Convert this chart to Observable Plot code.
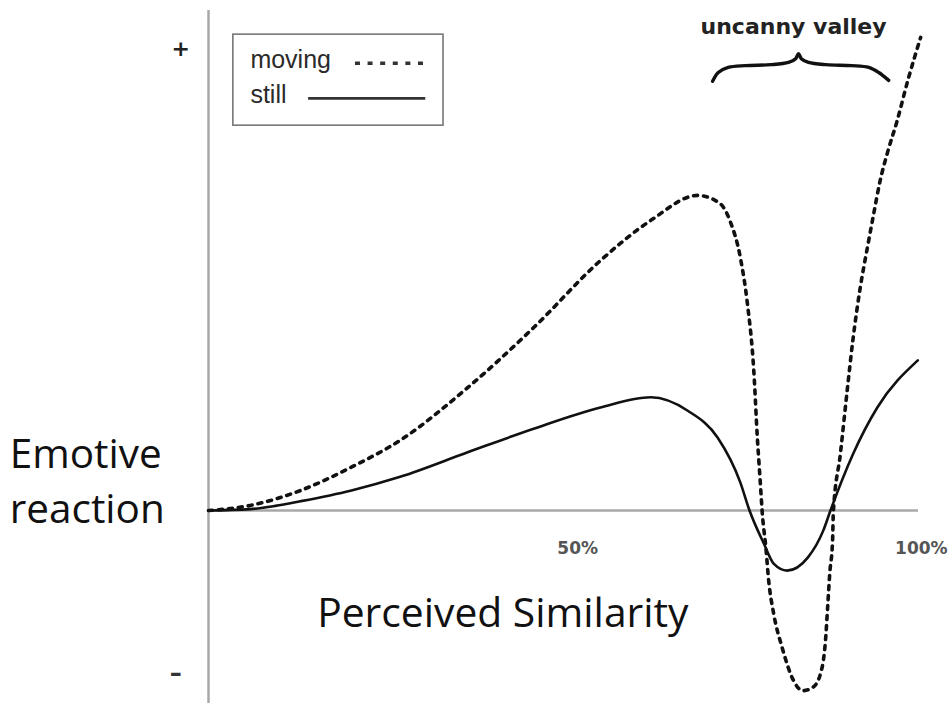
<!DOCTYPE html>
<html>
<head>
<meta charset="utf-8">
<script src="https://cdn.jsdelivr.net/npm/d3@7"></script>
<script src="https://cdn.jsdelivr.net/npm/@observablehq/plot@0.6"></script>
<style>
  html, body { margin: 0; padding: 0; background: #fff; }
  #chart svg { display: block; background: #fff; }
</style>
</head>
<body>
<div id="chart"></div>
<script>
// Perceived similarity (% human likeness) and emotive reaction (arbitrary units, "+" = 100)
const stillX = [0, 5.9, 9.4, 12.9, 20.0, 27.0, 36.5, 45.8, 55.2, 62.3, 67.5, 71.7, 74.9, 76.2, 78.2, 79.6, 81.5, 84.4, 86.6, 87.6, 90.8, 94.2, 99.9];
const stillY = [0, 0.3, 1.0, 2.0, 4.3, 7.3, 12.6, 17.7, 22.3, 24.5, 21.6, 15.8, 6.1, 0, -7.1, -11.5, -13.0, -10.2, -4.3, 0, 12.3, 22.3, 32.5];

const movingX = [0, 5.9, 12.9, 20.0, 27.0, 36.5, 45.8, 55.2, 62.3, 68.9, 72.0, 73.5, 74.9, 75.9, 76.8, 77.3, 77.7, 78.0, 78.5, 78.9, 79.6, 80.8, 82.4, 83.7, 85.1, 86.2, 86.9, 87.2, 87.5, 87.9, 88.0, 89.0, 90.0, 90.8, 91.8, 92.8, 93.7, 94.6, 95.6, 97.0, 98.5, 100.3];
const movingY = [0, 1.1, 4.3, 9.3, 15.2, 26.6, 39.6, 54.1, 62.8, 68.2, 66.5, 62.5, 54.8, 44.8, 30.3, 15.8, 6.5, -0.6, -8.0, -15.2, -22.3, -29.7, -36.8, -39.0, -38.3, -35.3, -28.1, -21.0, -13.6, -6.5, -0.6, 12.3, 26.6, 37.4, 48.3, 56.9, 64.3, 71.4, 77.3, 84.4, 93.1, 102.4];

const tickLabels = ["50%", "100%"];
const tickValues = [52.0, 100.4];

const seriesNames = ["moving", "still"];
const xTitle = "Perceived Similarity";
const yTitle = ["Emotive", "reaction"];
const annotation = "uncanny valley";
const braceX = [71.0, 71.8, 73.2, 75.6, 79.2, 81.7, 82.7, 83.1, 83.5, 84.5, 87.0, 90.6, 93.0, 94.4, 95.8];
const braceY = [92.9, 94.8, 95.9, 96.3, 96.5, 97.0, 97.8, 98.9, 97.8, 97.0, 96.5, 96.3, 95.9, 94.8, 93.1];

const toPts = (xs, ys) => xs.map((x, i) => ({x, y: ys[i]}));
const still = toPts(stillX, stillY);
const moving = toPts(movingX, movingY);
const brace = toPts(braceX, braceY);
const ticks = tickValues.map((x, i) => ({x, label: tickLabels[i]}));

const yMin = -41.77, yMax = 110.39;

const chart = Plot.plot({
  width: 949,
  height: 703,
  marginLeft: 208,
  marginRight: 31,
  marginTop: 0,
  marginBottom: 0,
  x: {domain: [0, 100], axis: null},
  y: {domain: [yMin, yMax], axis: null},
  style: {background: "#fff"},
  marks: [
    // axes
    Plot.ruleY([0], {x1: 0, x2: 100, stroke: "#a8a8a8", strokeWidth: 2.5}),
    Plot.ruleX([0], {y1: yMin, y2: 108.2, stroke: "#a8a8a8", strokeWidth: 2.5}),
    Plot.text(["+"], {x: -3.9, y: 100, fontSize: 22, fontWeight: "bold", fill: "#222", fontFamily: "DejaVu Sans"}),
    Plot.text(["–"], {x: -4.6, y: -35.3, fontSize: 24, fontWeight: "bold", fill: "#333", fontFamily: "DejaVu Sans"}),
    Plot.text(ticks, {x: "x", y: -8.2, text: "label", fontSize: 17, fontWeight: "bold", fill: "#555", fontFamily: "DejaVu Sans", letterSpacing: "-0.6px"}),
    // curves
    Plot.line(still, {x: "x", y: "y", curve: "monotone-x", stroke: "#111", strokeWidth: 2.6}),
    Plot.line(moving, {x: "x", y: "y", curve: "monotone-x", stroke: "#111", strokeWidth: 3.6, strokeDasharray: "4,6"}),
    // titles
    Plot.text([yTitle[0]], {x: -28.0, y: 9.3, textAnchor: "start", lineAnchor: "bottom", fontSize: 40.5, fill: "#111", fontFamily: "Open Sans"}),
    Plot.text([yTitle[1]], {x: -28.0, y: -2.6, textAnchor: "start", lineAnchor: "bottom", fontSize: 40.5, fill: "#111", fontFamily: "Open Sans"}),
    Plot.text([xTitle], {x: 15.3, y: -25.3, textAnchor: "start", lineAnchor: "bottom", fontSize: 40.8, fill: "#111", fontFamily: "Open Sans"}),
    // annotation
    Plot.text([annotation], {x: 69.3, y: 103.2, textAnchor: "start", lineAnchor: "bottom", fontSize: 22, fontWeight: "bold", fill: "#222", fontFamily: "DejaVu Sans"}),
    Plot.line(brace, {x: "x", y: "y", curve: "catmull-rom", stroke: "#111", strokeWidth: 3.4, strokeLinecap: "round"}),
    // legend
    Plot.rect([0], {x1: 3.5, x2: 33.1, y1: 83.3, y2: 103.0, fill: "none", stroke: "#777", strokeWidth: 1.6}),
    Plot.text([seriesNames[0]], {x: 5.9, y: 95.7, textAnchor: "start", lineAnchor: "bottom", fontSize: 25, fill: "#2a2a2a", fontFamily: "Liberation Sans", letterSpacing: "-0.3px"}),
    Plot.text([seriesNames[1]], {x: 5.9, y: 88.3, textAnchor: "start", lineAnchor: "bottom", fontSize: 25, fill: "#2a2a2a", fontFamily: "Liberation Sans", letterSpacing: "-0.3px"}),
    Plot.ruleY([96.8], {x1: 20.7, x2: 30.6, stroke: "#333", strokeWidth: 3.4, strokeDasharray: "5,7.6"}),
    Plot.ruleY([89.2], {x1: 14.1, x2: 30.6, stroke: "#333", strokeWidth: 2.6})
  ]
});

document.getElementById("chart").appendChild(chart);
</script>
</body>
</html>
